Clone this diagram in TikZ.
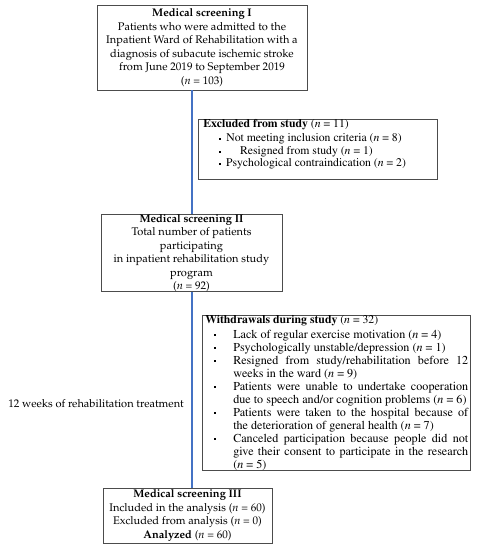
\documentclass[tikz,border=0pt]{standalone}
\usepackage[T1]{fontenc}
\usepackage{mathpazo}
\usetikzlibrary{positioning}
\definecolor{spineblue}{HTML}{4472C4}
\newcommand{\tnr}{\fontfamily{ptm}\selectfont}
\newcommand{\nn}{\textit{n}}
\tikzset{
  box/.style={draw=black!70, line width=0.6pt, fill=white, inner sep=0pt},
  pala/.style={font=\fontsize{8.3}{10.1}\selectfont, align=center},
  times/.style={font=\tnr\fontsize{8.8}{9.75}\selectfont, inner sep=0pt},
  item/.style={font=\tnr\fontsize{9.1}{9.75}\selectfont, inner sep=0pt,
    text width=176.25pt, align=justify, anchor=base west},
  sq/.style={fill=black, minimum size=1.8pt, inner sep=0pt},
  spine/.style={draw=spineblue, line width=2pt}
}
\begin{document}
\begin{tikzpicture}[x=0.75pt,y=-0.75pt]
\useasboundingbox[fill=white] (0,0) rectangle (480,550);

% screening boxes
\node[box, pala, minimum width=157.5pt, minimum height=63.75pt] (s1) at (202,47.5)
  {\textbf{Medical screening I}\\Patients who were admitted to the\\Inpatient Ward of Rehabilitation with a\\diagnosis of subacute ischemic stroke\\from June 2019 to September 2019\\(\nn{} = 103)};
\node[box, pala, minimum width=135.75pt, minimum height=57pt] (s2) at (191.5,253)
  {\textbf{Medical screening II}\\Total number of patients\\participating\\in inpatient rehabilitation study\\program\\(\nn{} = 92)};
\node[box, pala, minimum width=126.75pt, minimum height=41.25pt] (s3) at (187.5,515.5)
  {\textbf{Medical screening III}\\Included in the analysis (\nn{} = 60)\\Excluded from analysis (\nn{} = 0)\\\textbf{Analyzed} (\nn{} = 60)};

\coordinate (spinex) at (192,0);
\draw[spine] (s1.south -| spinex) -- (s2.north -| spinex);
\draw[spine] (s2.south -| spinex) -- (s3.north -| spinex);

\node[pala, anchor=west, inner sep=0pt] (weeks) at (8,404) {12 weeks of rehabilitation treatment};

% excluded
\node[box, minimum width=179.25pt, minimum height=45pt] (ex) at (317.5,149) {};
\node[times, anchor=west] (exhead) at (203,125) {\textbf{Excluded from study} (\nn{} = 11)};
\foreach \y in {139,152,164}
  \node[sq] at (220,\y) {};
\node[times] (ex1) at (314,139) {Not meeting inclusion criteria (\nn{} = 8)};
\node[times] (ex2) at (306.5,152) {Resigned from study (\nn{} = 1)};
\node[times] (ex3) at (316,164) {Psychological contraindication (\nn{} = 2)};

% withdrawals
\node[box, minimum width=201pt, minimum height=116.25pt] (wd) at (336,392.5) {};
\node[times, anchor=west] (wdhead) at (205,321) {\textbf{Withdrawals during study} (\nn{} = 32)};
\foreach \y in {335,348,361,387,413,439}
  \node[sq] at (215,\y) {};
\node[item] (wd1) at (233,338) {Lack of regular exercise motivation (\nn{} = 4)};
\node[item] (wd2) at (233,351) {Psychologically unstable/depression (\nn{} = 1)};
\node[item] (wd3) at (233,364) {Resigned from study/rehabilitation before 12\linebreak weeks in the ward (\nn{} = 9)};
\node[item] (wd4) at (233,390) {Patients were unable to undertake cooperation\linebreak due to speech and/or cognition problems (\nn{} = 6)};
\node[item] (wd5) at (233,416) {Patients were taken to the hospital because of\linebreak the deterioration of general health (\nn{} = 7)};
\node[item] (wd6) at (233,442) {Canceled participation because people did not\linebreak give their consent to participate in the research\linebreak (\nn{} = 5)};
\end{tikzpicture}
\end{document}
